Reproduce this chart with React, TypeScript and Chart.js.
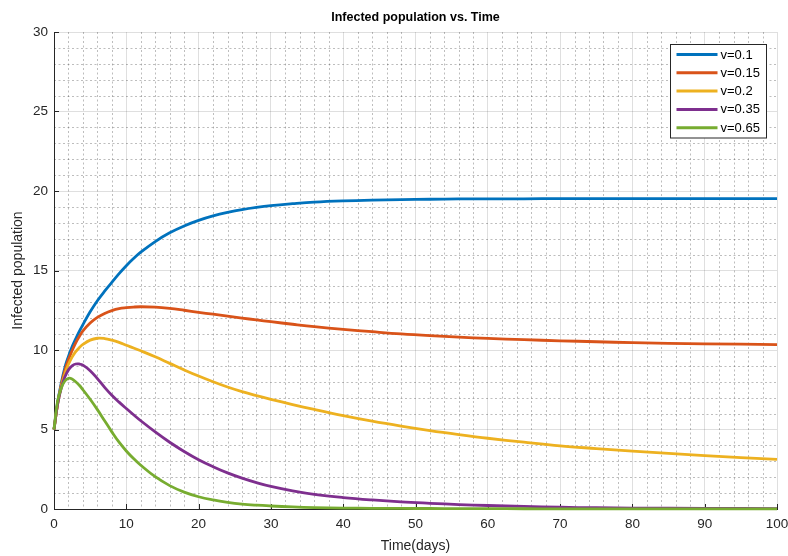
import { useEffect, useRef } from 'react';
import { Chart, registerables } from 'chart.js';

Chart.register(...registerables);

// ---- data ----
const TIME = [0, 0.5, 1, 1.5, 2, 2.5, 3, 3.5, 4, 5, 6, 7, 8, 9, 10, 11, 12, 14, 16, 18, 20, 22, 24, 26, 28, 30, 33, 36, 40, 44, 48, 52, 56, 60, 65, 70, 75, 80, 90, 100];

const V010 = [5, 6.7, 7.9, 8.9, 9.6, 10.2, 10.7, 11.17, 11.6, 12.4, 13.1, 13.7, 14.25, 14.8, 15.3, 15.75, 16.15, 16.82, 17.37, 17.8, 18.15, 18.43, 18.65, 18.83, 18.97, 19.08, 19.2, 19.3, 19.38, 19.43, 19.46, 19.48, 19.5, 19.5, 19.51, 19.52, 19.52, 19.52, 19.52, 19.52];
const V015 = [5, 6.6, 7.8, 8.7, 9.4, 9.95, 10.45, 10.85, 11.2, 11.7, 12.05, 12.3, 12.48, 12.6, 12.66, 12.7, 12.72, 12.7, 12.62, 12.5, 12.37, 12.25, 12.13, 12.01, 11.89, 11.78, 11.62, 11.47, 11.3, 11.15, 11.01, 10.9, 10.81, 10.73, 10.65, 10.58, 10.52, 10.46, 10.39, 10.34];
const V020 = [5, 6.6, 7.7, 8.5, 9.1, 9.55, 9.9, 10.15, 10.35, 10.62, 10.74, 10.72, 10.62, 10.48, 10.3, 10.13, 9.95, 9.57, 9.16, 8.75, 8.36, 8.0, 7.67, 7.38, 7.13, 6.9, 6.57, 6.26, 5.87, 5.52, 5.21, 4.93, 4.68, 4.45, 4.2, 3.97, 3.8, 3.64, 3.36, 3.12];
const V035 = [5, 6.6, 7.6, 8.3, 8.75, 9.0, 9.12, 9.12, 9.05, 8.7, 8.2, 7.65, 7.15, 6.72, 6.32, 5.93, 5.55, 4.85, 4.2, 3.62, 3.1, 2.66, 2.27, 1.94, 1.66, 1.42, 1.14, 0.92, 0.72, 0.57, 0.45, 0.36, 0.28, 0.22, 0.16, 0.11, 0.08, 0.06, 0.04, 0.02];
const V065 = [5, 6.8, 7.6, 8.05, 8.22, 8.18, 8.0, 7.78, 7.5, 6.9, 6.25, 5.55, 4.85, 4.2, 3.65, 3.17, 2.75, 2.03, 1.47, 1.06, 0.77, 0.57, 0.42, 0.31, 0.24, 0.19, 0.13, 0.09, 0.06, 0.045, 0.035, 0.03, 0.025, 0.02, 0.015, 0.01, 0.01, 0.01, 0.01, 0.01];

const SERIES = [V010, V015, V020, V035, V065];
const LABELS = ['v=0.1', 'v=0.15', 'v=0.2', 'v=0.35', 'v=0.65'];
const COLORS = ['#0072BD', '#D95319', '#EDB120', '#7E2F8E', '#77AC30'];

const TITLE = 'Infected population vs. Time';
const X_TITLE = 'Time(days)';
const Y_TITLE = 'Infected population';
const X_RANGE = [0, 100];
const Y_RANGE = [0, 30];
const X_MAJOR = 10;
const X_MINOR = 2;
const Y_MAJOR = 5;
const Y_MINOR = 1;

const FONT = "'Liberation Sans', Arial, Helvetica, sans-serif";
const AXIS_COLOR = '#262626';

const matlabPlugin = {
  id: 'matlabLook',
  beforeDatasetsDraw(chart: any) {
    const { ctx, chartArea: a, scales } = chart;
    const x = scales.x;
    const y = scales.y;
    const seg = (x1: number, y1: number, x2: number, y2: number) => {
      ctx.beginPath();
      ctx.moveTo(x1, y1);
      ctx.lineTo(x2, y2);
      ctx.stroke();
    };
    ctx.save();
    // minor grid
    ctx.strokeStyle = 'rgba(38,38,38,0.3)';
    ctx.lineWidth = 1;
    ctx.setLineDash([2, 2.5]);
    for (let v = X_RANGE[0]; v <= X_RANGE[1] + 1e-9; v += X_MINOR) {
      if (Math.abs(v % X_MAJOR) < 1e-9) continue;
      const px = Math.round(x.getPixelForValue(v)) + 0.5;
      seg(px, a.top, px, a.bottom);
    }
    for (let v = Y_RANGE[0]; v <= Y_RANGE[1] + 1e-9; v += Y_MINOR) {
      if (Math.abs(v % Y_MAJOR) < 1e-9) continue;
      const py = Math.round(y.getPixelForValue(v)) + 0.5;
      seg(a.left, py, a.right, py);
    }
    ctx.setLineDash([]);
    // inward ticks
    ctx.strokeStyle = AXIS_COLOR;
    ctx.lineWidth = 1;
    for (let v = X_RANGE[0]; v <= X_RANGE[1] + 1e-9; v += X_MAJOR) {
      const px = Math.round(x.getPixelForValue(v)) + 0.5;
      seg(px, a.bottom, px, a.bottom - 5);
    }
    for (let v = Y_RANGE[0]; v <= Y_RANGE[1] + 1e-9; v += Y_MAJOR) {
      const py = Math.round(y.getPixelForValue(v)) + 0.5;
      seg(a.left, py, a.left + 5, py);
    }
    ctx.restore();
  },
  afterDatasetsDraw(chart: any) {
    const { ctx, chartArea: a } = chart;
    const w = 96;
    const rowH = 18.3;
    const n = chart.data.datasets.length;
    const h = rowH * n + 2;
    const left = Math.round(a.right - 11 - w) + 0.5;
    const top = Math.round(a.top + 12) + 0.5;
    ctx.save();
    ctx.fillStyle = '#ffffff';
    ctx.fillRect(left, top, w, h);
    ctx.strokeStyle = AXIS_COLOR;
    ctx.lineWidth = 1;
    ctx.strokeRect(left, top, w, h);
    ctx.font = `13px ${FONT}`;
    ctx.textBaseline = 'middle';
    ctx.textAlign = 'left';
    chart.data.datasets.forEach((ds: any, i: number) => {
      const cy = top + 10 + i * rowH;
      ctx.strokeStyle = ds.borderColor;
      ctx.lineWidth = 3;
      ctx.beginPath();
      ctx.moveTo(left + 6, cy);
      ctx.lineTo(left + 47, cy);
      ctx.stroke();
      ctx.fillStyle = '#000000';
      ctx.fillText(ds.label, left + 50, cy + 0.5);
    });
    ctx.restore();
  },
};

export default function App() {
  const ref = useRef<HTMLCanvasElement | null>(null);

  useEffect(() => {
    if (!ref.current) return;
    const datasets = SERIES.map((vals, i) => ({
      label: LABELS[i],
      data: TIME.map((t, k) => ({ x: t, y: vals[k] })),
      borderColor: COLORS[i],
      backgroundColor: COLORS[i],
      borderWidth: 2.8,
      pointRadius: 0,
      fill: false,
      tension: 0.4,
      clip: false as any,
      order: SERIES.length - i,
    }));
    const chart = new Chart(ref.current, {
      type: 'line',
      data: { datasets },
      plugins: [matlabPlugin],
      options: {
        animation: false,
        responsive: false,
        devicePixelRatio: 1,
        layout: { padding: { left: 0, right: 11, top: 0, bottom: 0 } },
        plugins: {
          legend: { display: false },
          tooltip: { enabled: false },
          title: {
            display: true,
            text: TITLE,
            fullSize: false,
            color: '#000000',
            font: { family: FONT, size: 12.5, weight: 'bold', lineHeight: 1.2 },
            padding: { top: 10, bottom: 7 },
          },
        },
        scales: {
          x: {
            type: 'linear',
            min: X_RANGE[0],
            max: X_RANGE[1],
            afterFit: (s: any) => { s.height = 47; s.paddingLeft = 0; s.paddingRight = 0; },
            ticks: {
              stepSize: X_MAJOR,
              color: AXIS_COLOR,
              padding: 7,
              maxRotation: 0,
              font: { family: FONT, size: 13.5 },
            },
            grid: { color: 'rgba(38,38,38,0.15)', drawTicks: false, lineWidth: 1 },
            border: { display: true, color: AXIS_COLOR, width: 1 },
            title: {
              display: true,
              text: X_TITLE,
              color: AXIS_COLOR,
              font: { family: FONT, size: 14 },
              padding: { top: 0, bottom: 1 },
            },
          },
          y: {
            type: 'linear',
            min: Y_RANGE[0],
            max: Y_RANGE[1],
            afterFit: (s: any) => { s.width = 54; },
            ticks: {
              stepSize: Y_MAJOR,
              color: AXIS_COLOR,
              padding: 6,
              font: { family: FONT, size: 13.5 },
            },
            grid: { color: 'rgba(38,38,38,0.15)', drawTicks: false, lineWidth: 1 },
            border: { display: true, color: AXIS_COLOR, width: 1 },
            title: {
              display: true,
              text: Y_TITLE,
              color: AXIS_COLOR,
              font: { family: FONT, size: 14 },
              padding: { top: 10, bottom: 0 },
            },
          },
        },
      },
    });
    return () => chart.destroy();
  }, []);

  return (
    <div style={{ position: 'absolute', left: 0, top: 0, width: 788, height: 556, background: '#fff' }}>
      <canvas ref={ref} width={788} height={556} style={{ width: 788, height: 556, display: 'block' }} />
    </div>
  );
}
